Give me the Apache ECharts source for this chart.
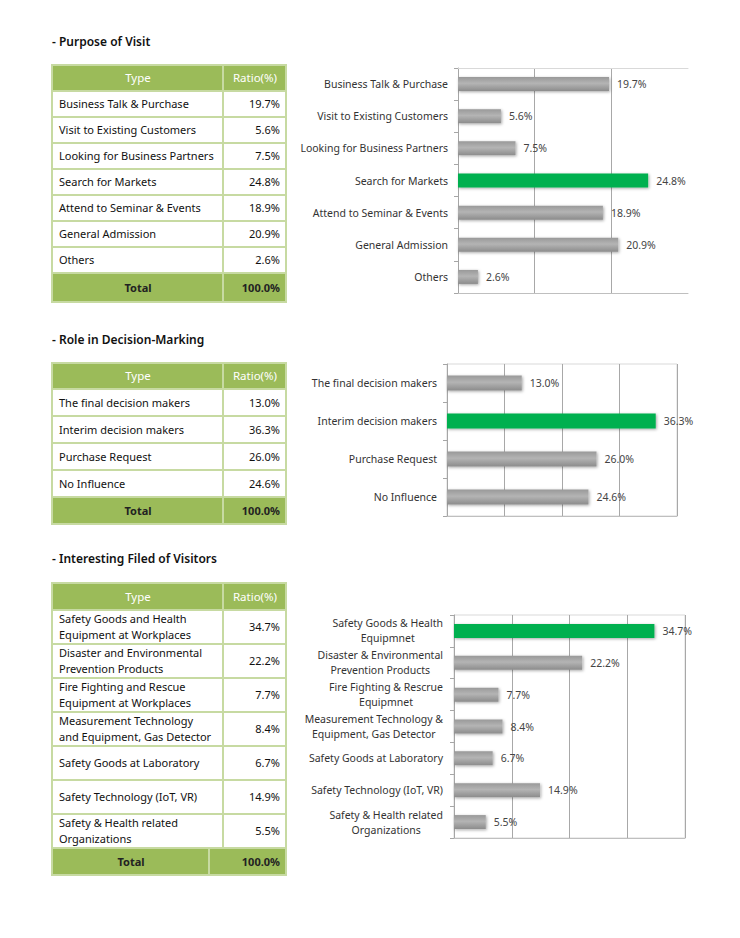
<!DOCTYPE html>
<html><head><meta charset="utf-8">
<script src="https://cdn.jsdelivr.net/npm/echarts@6/dist/echarts.min.js"></script>
<style>
html,body{margin:0;padding:0;background:#fff;}
body{width:740px;height:938px;position:relative;overflow:hidden;font-family:"Noto Sans",sans-serif;}
.title{position:absolute;left:52px;font-size:12px;line-height:16px;font-weight:600;color:#111;}
table{position:absolute;left:51px;border-collapse:collapse;table-layout:fixed;font-size:11px;color:#111;}
td{border:2px solid #c7daa2;padding:0 5px 0 6px;overflow:hidden;white-space:pre-line;line-height:16px;}
tr.h td{background:#9bbb59;color:#fff;text-align:center;font-size:11.5px;}
tr.t td{background:#9bbb59;font-weight:bold;color:#222;}
tr.t td.c{text-align:center;}
td.v{text-align:right;}
.chart{position:absolute;overflow:hidden;}
</style></head>
<body>
<div class="title" style="top:34px">- Purpose of Visit</div>
<div class="title" style="top:332px">- Role in Decision-Marking</div>
<div class="title" style="top:551px">- Interesting Filed of Visitors</div>
<div id="t1"></div><div id="t2"></div><div id="t3"></div>
<div id="c1" class="chart" style="left:290px;top:55px;width:440px;height:250px"></div>
<div id="c2" class="chart" style="left:290px;top:350px;width:430px;height:180px"></div>
<div id="c3" class="chart" style="left:290px;top:600px;width:430px;height:250px"></div>
<script>
// ---------- data ----------
const tableHeader = ['Type', 'Ratio(%)'];
const totalLabel = 'Total';

const purposeCategories = ['Business Talk & Purchase','Visit to Existing Customers','Looking for Business Partners','Search for Markets','Attend to Seminar & Events','General Admission','Others'];
const purposeValues = [19.7, 5.6, 7.5, 24.8, 18.9, 20.9, 2.6];
const purposeTotal = 100.0;

const roleCategories = ['The final decision makers','Interim decision makers','Purchase Request','No Influence'];
const roleValues = [13.0, 36.3, 26.0, 24.6];
const roleTotal = 100.0;

const fieldTableCategories = ['Safety Goods and Health\nEquipment at Workplaces','Disaster and Environmental\nPrevention Products','Fire Fighting and Rescue\nEquipment at Workplaces','Measurement Technology\nand Equipment, Gas Detector','Safety Goods at Laboratory','Safety Technology (IoT, VR)','Safety & Health related\nOrganizations'];
const fieldChartCategories = ['Safety Goods & Health\nEquipmnet','Disaster & Environmental\nPrevention Products','Fire Fighting & Rescrue\nEquipmnet','Measurement Technology &\nEquipment, Gas Detector','Safety Goods at Laboratory','Safety Technology (IoT, VR)','Safety & Health related\nOrganizations'];
const fieldValues = [34.7, 22.2, 7.7, 8.4, 6.7, 14.9, 5.5];
const fieldTotal = 100.0;

// ---------- tables ----------
function fmt(v){ return v.toFixed(1) + '%'; }
function buildTable(id, top, cats, vals, total, L){
  const three = L.split != null;
  let h = '<table style="top:'+top+'px;width:'+(L.c1+L.c2)+'px"><colgroup>';
  if (three) h += '<col style="width:'+L.split+'px"><col style="width:'+(L.c1-L.split)+'px">';
  else h += '<col style="width:'+L.c1+'px">';
  h += '<col style="width:'+L.c2+'px"></colgroup>';
  const span = three ? ' colspan="2"' : '';
  h += '<tr class="h" style="height:'+L.hh+'px"><td'+span+'>'+tableHeader[0]+'</td><td>'+tableHeader[1]+'</td></tr>';
  cats.forEach((c,i)=>{
    h += '<tr style="height:'+L.rh+'px"><td'+span+'>'+c.replace(/&/g,'&amp;')+'</td><td class="v">'+fmt(vals[i])+'</td></tr>';
  });
  if (three) h += '<tr class="t" style="height:'+L.th+'px"><td class="c">'+totalLabel+'</td><td class="v" colspan="2">'+fmt(total)+'</td></tr>';
  else h += '<tr class="t" style="height:'+L.th+'px"><td class="c">'+totalLabel+'</td><td class="v">'+fmt(total)+'</td></tr>';
  h += '</table>';
  document.getElementById(id).innerHTML = h;
}
buildTable('t1', 64, purposeCategories, purposeValues, purposeTotal, {c1:171, c2:63, hh:26, rh:26, th:29});
buildTable('t2', 362, roleCategories, roleValues, roleTotal, {c1:171, c2:63, hh:26, rh:27, th:27});
buildTable('t3', 582, fieldTableCategories, fieldValues, fieldTotal, {c1:171, c2:63, split:157, hh:27, rh:34, th:27});

// ---------- charts ----------
const GREEN = '#00b050';
const GRAY = new echarts.graphic.LinearGradient(0,0,0,1,[
  {offset:0,color:'#999999'},{offset:0.45,color:'#b4b4b4'},{offset:1,color:'#8c8c8c'}]);
function barChart(id, cats, vals, L){
  const chart = echarts.init(document.getElementById(id), null, {renderer:'svg'});
  const maxV = Math.max.apply(null, vals);
  const xBase = {type:'value', min:0, max:L.max, interval:10, axisLabel:{show:false}, axisTick:{show:false}};
  const xAxes = [Object.assign({}, xBase, {
      axisLine:{show:true, lineStyle:{color:'#bfbfbf'}},
      splitLine:{show:true, showMaxLine:!L.openRight, lineStyle:{color:'#a8a8a8', width:1}}})];
  if (L.openRight) xAxes.push(Object.assign({}, xBase, {position:'top',
      axisLine:{show:true, lineStyle:{color:'#d9d9d9'}}, splitLine:{show:false}}));
  chart.setOption({
    animation:false,
    grid:{left:L.left, top:L.top, width:L.width, height:L.height, show:!L.openRight, borderColor:'#d9d9d9', borderWidth:1,
      containLabel:false, outerBoundsMode:'none'},
    xAxis:xAxes,
    yAxis:{type:'category', inverse:true, data:cats,
      axisLine:{show:true, lineStyle:{color:'#a6a6a6'}},
      axisTick:{show:true, length:4, lineStyle:{color:'#a6a6a6'}},
      axisLabel:{margin:L.margin, fontFamily:'Noto Sans', fontSize:10.5, color:'#333', lineHeight:15,
        formatter:function(v){ return v.split('\n').map(s=>'{c|'+s+'}').join('\n'); },
        rich:{c:{align:'center', fontFamily:'Noto Sans', fontSize:10.5, color:'#333', lineHeight:15}}}},
    series:[{type:'bar', barWidth:L.bar, xAxisIndex:0,
      data: vals.map(v=>({value:v, itemStyle:{color: v===maxV ? GREEN : GRAY}})),
      itemStyle:{shadowBlur:3, shadowColor:'rgba(0,0,0,0.35)', shadowOffsetX:1, shadowOffsetY:1},
      label:{show:true, position:'right', distance:8, fontFamily:'Noto Sans', fontSize:10.5, color:'#444',
        formatter:p=>fmt(p.value)}}]
  });
}
barChart('c1', purposeCategories, purposeValues, {left:168, top:13, width:230, height:225, max:30, bar:14, margin:10, openRight:true});
barChart('c2', roleCategories, roleValues, {left:157, top:14, width:230, height:152, max:40, bar:15, margin:10});
barChart('c3', fieldChartCategories, fieldValues, {left:164, top:15, width:231, height:223, max:40, bar:14, margin:11});
</script>
</body></html>
